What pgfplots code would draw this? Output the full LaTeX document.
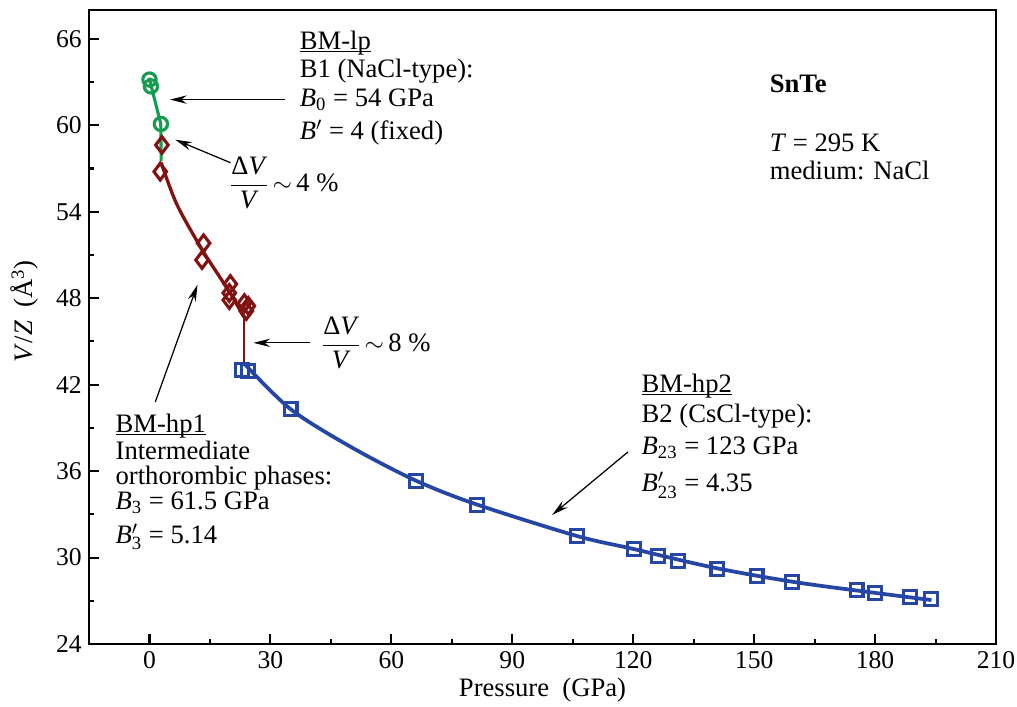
\documentclass[border=0pt]{standalone}
\usepackage{pgfplots}
\pgfplotsset{compat=1.18}
\usepackage{fontspec}
\setmainfont{Liberation Serif}
\usetikzlibrary{arrows.meta}
\definecolor{greenc}{RGB}{22,155,80}
\definecolor{redc}{RGB}{128,18,18}
\definecolor{bluec}{RGB}{38,70,165}
\newcommand{\tf}{\fontsize{12.8}{15}\selectfont}
\newcommand{\ul}[1]{\setbox0\hbox{#1}\rlap{\rule[-1.1pt]{\wd0}{0.6pt}}\box0}
\begin{document}
\begin{tikzpicture}[>={Stealth[length=8pt,width=4pt]}]
\begin{axis}[
 name=ax, scale only axis, width=436pt, height=304.8pt,
 xmin=-15, xmax=210, ymin=24, ymax=68,
 xtick={0,30,...,210}, ytick={24,30,...,66},
 minor x tick num=1, minor y tick num=1,
 tick align=inside, xtick pos=bottom, ytick pos=left,
 major tick length=4.8pt, minor tick length=2.6pt,
 every tick/.style={line width=1pt, black},
 axis line style={line width=1pt},
 tick label style={font=\fontsize{12.3}{14}\selectfont},
 /pgf/number format/assume math mode=true,
 xlabel={Pressure\ \ (GPa)},
 ylabel={\textit{V}/\textit{Z}\ \ (Å\textsuperscript{3})},
 label style={font=\tf},
 xlabel style={at={(axis description cs:0.5,-0.072)}, anchor=center},
 ylabel style={at={(axis description cs:-0.0707,0.525)}, anchor=center},
 clip=false,
]
% blue BM-hp2 fit
\addplot[bluec, line width=1.8pt, smooth] coordinates {
(23.37,43.5)(35,40.3)(50,37.67)(66,35.35)(81,33.7)(106,31.5)(120,30.6)(140,29.3)(160,28.3)(180,27.55)(194,27.05)};
\addplot[only marks, mark=square, mark size=3.1pt, mark options={line width=1.5pt, draw=bluec}] coordinates {
(23.04,43.01)(24.53,42.94)(35.0,40.31)(66.1,35.31)(81.2,33.65)(106.1,31.49)(120.2,30.59)(126.2,30.11)(131.2,29.76)(140.9,29.20)(150.6,28.72)(159.3,28.30)(175.4,27.75)(179.9,27.54)(188.6,27.26)(193.8,27.12)};
% red BM-hp1
\addplot[redc, line width=1.6pt, smooth] coordinates {
(2.9,57.4)(6.8,54.5)(13.2,51.3)(19.8,48.45)(23.37,46.7)};
\addplot[redc, line width=1pt] coordinates {(23.37,46.7)(23.37,43.5)};
\addplot[only marks, mark=diamond, mark size=4pt, mark options={line width=1.5pt, draw=redc}] coordinates {
(3.08,58.63)(2.66,56.78)(13.42,51.81)(13.03,50.65)(20.06,48.98)(19.8,48.36)(19.8,47.87)(23.54,47.66)(24.53,47.46)(24.03,47.11)};
% green BM-lp
\addplot[greenc, line width=1.5pt] coordinates {(-0.1,63.3)(2.8,60.1)(2.9,57.5)};
\addplot[only marks, mark=o, mark size=3.2pt, mark options={line width=1.5pt, draw=greenc}] coordinates {
(0.0,63.17)(0.35,62.70)(2.83,60.09)};
% annotations
\begin{scope}[every node/.style={font=\tf, inner sep=0pt, anchor=base west}]
\node at (axis cs:37.2,65.25) {\ul{BM-lp}};
\node at (axis cs:37.2,63.31) {B1 (NaCl-type):};
\node at (axis cs:37.2,61.29) {\textit{B}\textsubscript{0} = 54 GPa};
\node at (axis cs:37.2,59.0) {\textit{B}$'$ = 4 (fixed)};
\node at (axis cs:153.8,62.26) {\textbf{SnTe}};
\node at (axis cs:153.8,58.17) {\textit{T} = 295 K};
\node at (axis cs:153.8,56.22) {medium: NaCl};
\node at (axis cs:-8.5,38.65) {\ul{BM-hp1}};
\node at (axis cs:-8.5,36.78) {Intermediate};
\node at (axis cs:-8.5,35.04) {orthorombic phases:};
\node at (axis cs:-8.5,33.31) {\textit{B}\textsubscript{3} = 61.5 GPa};
\node at (axis cs:-8.5,31.0) {\textit{B}$'_{\mbox{\fontsize{9}{9}\selectfont 3}}$ = 5.14};
\node at (axis cs:122.0,41.43) {\ul{BM-hp2}};
\node at (axis cs:122.0,39.35) {B2 (CsCl-type):};
\node at (axis cs:122.0,37.13) {\textit{B}\textsubscript{23} = 123 GPa};
\node at (axis cs:122.0,34.56) {\textit{B}$'_{\mbox{\fontsize{9}{9}\selectfont 23}}$ = 4.35};
\node[anchor=west] at (axis cs:19.6,56.0) {$\displaystyle\frac{\mbox{Δ\textit{V}}}{\mbox{\textit{V}}}\!\sim$\,4 \%};
\node[anchor=west] at (axis cs:42.4,44.9) {$\displaystyle\frac{\mbox{Δ\textit{V}}}{\mbox{\textit{V}}}\!\sim$\,8 \%};
\end{scope}
\draw[->, line width=0.6pt] (axis cs:33.7,61.78) -- (axis cs:5.1,61.78);
\draw[->, line width=0.6pt] (axis cs:20.1,57.40) -- (axis cs:6.4,59.0);
\draw[->, line width=0.6pt] (axis cs:39.9,44.9) -- (axis cs:25.8,44.9);
\draw[->, line width=0.6pt] (axis cs:1.44,40.8) -- (axis cs:11.9,48.93);
\draw[->, line width=0.6pt] (axis cs:118.7,37.33) -- (axis cs:99.9,32.96);
\coordinate (bl) at (rel axis cs:0,0);
\coordinate (tr) at (rel axis cs:1,1);
\end{axis}
\pgfresetboundingbox
\path ([xshift=-42.8pt,yshift=-29.8pt]bl) rectangle ([xshift=10.1pt,yshift=4.8pt]tr);
\end{tikzpicture}
\end{document}
